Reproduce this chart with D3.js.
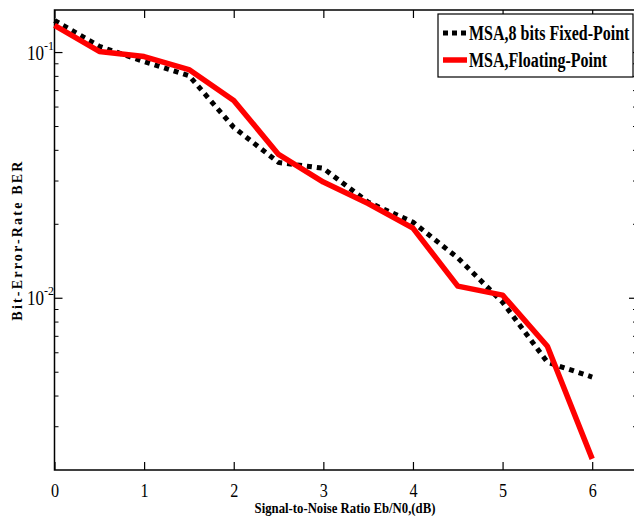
<!DOCTYPE html>
<meta charset="utf-8">
<style>
body { margin: 0; background: #fff; }
svg text { font-family: "Liberation Serif", "Times New Roman", serif; }
.line { fill: none; }
</style>
<body>
<svg width="634" height="519"></svg>
<script src="https://d3js.org/d3.v7.min.js"></script>
<script>

// data
var snr = [0, 0.5, 1, 1.5, 2, 2.5, 3, 3.5, 4, 4.5, 5, 5.5, 6];
var berFixed = [0.135, 0.106, 0.0919, 0.0806, 0.0496, 0.0357, 0.0338, 0.0246, 0.0204, 0.0146, 0.00964, 0.00549, 0.00478];
var berFloat = [0.129, 0.101, 0.0963, 0.0853, 0.0638, 0.0385, 0.0297, 0.0243, 0.0193, 0.0112, 0.0103, 0.00638, 0.00222];
var xTicks = [0, 1, 2, 3, 4, 5, 6];
var yMajor = [0.1, 0.01];
var yMinor = [0.09, 0.08, 0.07, 0.06, 0.05, 0.04, 0.03, 0.02, 0.009, 0.008, 0.007, 0.006, 0.005, 0.004, 0.003];
var seriesNames = ["MSA,8 bits Fixed-Point", "MSA,Floating-Point"];

var svg = d3.select("svg"),
    pLeft = 54.5, pRight = 637, pTop = 10, pBottom = 470;

var x = d3.scaleLinear().domain([0, 6.5]).range([pLeft, pRight]);
var y = d3.scaleLog().domain([0.00200, 0.149]).range([pBottom, pTop]);

// frame
svg.append("rect")
    .attr("x", pLeft).attr("y", pTop)
    .attr("width", pRight - pLeft).attr("height", pBottom - pTop)
    .attr("fill", "none").attr("stroke", "#000").attr("stroke-width", 1.5);

// x axis (bottom and top, ticks inward)
var xb = svg.append("g")
    .attr("transform", "translate(0," + pBottom + ")")
    .call(d3.axisBottom(x).tickValues(xTicks).tickSize(-8).tickPadding(14).tickFormat(d3.format("d")));
xb.select(".domain").remove();
xb.selectAll("line").attr("stroke-width", 1.2);
xb.selectAll("text").style("font-size", "19px").attr("fill", "#000")
    .attr("transform", "scale(0.85,1)");

var xt = svg.append("g")
    .attr("transform", "translate(0," + pTop + ")")
    .call(d3.axisTop(x).tickValues(xTicks).tickSize(-8).tickFormat(""));
xt.select(".domain").remove();
xt.selectAll("line").attr("stroke-width", 1.2);

// y axis, major + minor ticks on both sides
function yTicks(xpos, dir) {
  var g = svg.append("g");
  g.selectAll(".maj").data(yMajor).enter().append("line")
      .attr("x1", xpos).attr("x2", xpos + dir * 8)
      .attr("y1", function(d) { return y(d); }).attr("y2", function(d) { return y(d); })
      .attr("stroke", "#000").attr("stroke-width", 1.2);
  g.selectAll(".min").data(yMinor).enter().append("line")
      .attr("x1", xpos).attr("x2", xpos + dir * 4)
      .attr("y1", function(d) { return y(d); }).attr("y2", function(d) { return y(d); })
      .attr("stroke", "#000").attr("stroke-width", 1);
}
yTicks(pLeft, 1);
yTicks(pRight, -1);

var yl = svg.append("g").selectAll("g").data(yMajor).enter().append("g")
    .attr("transform", function(d) { return "translate(44," + (y(d) + 7) + ")"; });
yl.append("text")
    .attr("text-anchor", "end")
    .attr("transform", "scale(0.85,1)")
    .style("font-size", "20px")
    .text("10");
yl.append("text")
    .attr("x", 0).attr("y", -10)
    .style("font-size", "12px")
    .text(function(d) { return "-" + Math.round(-Math.log10(d)); });

// lines
var line = d3.line()
    .x(function(d, i) { return x(snr[i]); })
    .y(function(d) { return y(d); });

svg.append("path")
    .datum(berFixed)
    .attr("class", "line")
    .attr("stroke", "#000")
    .attr("stroke-width", 5)
    .attr("stroke-dasharray", "5,5")
    .attr("d", line);

svg.append("path")
    .datum(berFloat)
    .attr("class", "line")
    .attr("stroke", "#ff0000")
    .attr("stroke-width", 5.5)
    .attr("stroke-linejoin", "round")
    .attr("d", line);

// legend
var lg = svg.append("g").attr("transform", "translate(438,14)");
lg.append("rect")
    .attr("width", 195).attr("height", 63)
    .attr("fill", "#fff").attr("stroke", "#000").attr("stroke-width", 1.2);
var rows = lg.selectAll(".row").data(seriesNames).enter().append("g")
    .attr("transform", function(d, i) { return "translate(0," + (19 + i * 27) + ")"; });
rows.append("line")
    .attr("x1", 5).attr("x2", 29)
    .attr("stroke", function(d, i) { return i ? "#ff0000" : "#000"; })
    .attr("stroke-width", function(d, i) { return i ? 5.5 : 5; })
    .attr("stroke-dasharray", function(d, i) { return i ? null : "5,4"; });
rows.append("text")
    .attr("y", 7)
    .attr("transform", "scale(0.8,1)")
    .attr("x", 31 / 0.8)
    .style("font-size", "20px").style("font-weight", "bold")
    .text(function(d) { return d; });

// axis titles
svg.append("text")
    .attr("transform", "translate(345,513) scale(0.85,1)")
    .attr("text-anchor", "middle")
    .style("font-size", "15px").style("font-weight", "bold")
    .text("Signal-to-Noise Ratio Eb/N0,(dB)");

svg.append("text")
    .attr("transform", "translate(22,240) rotate(-90)")
    .attr("text-anchor", "middle")
    .style("font-size", "14px").style("font-weight", "bold")
    .style("letter-spacing", "2.2px")
    .text("Bit-Error-Rate BER");

</script>
</body>
